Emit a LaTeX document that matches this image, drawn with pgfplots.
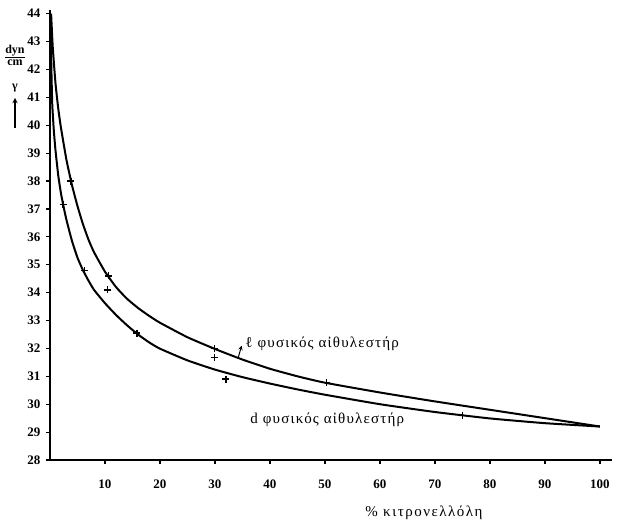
\documentclass[border=0pt]{standalone}
\usepackage{pgfplots}
\pgfplotsset{compat=1.18}
\usepackage{fontspec}
\setmainfont{Liberation Serif}
\begin{document}
\begin{tikzpicture}[x=1pt,y=1pt]
\begin{axis}[
  scale only axis,
  width=562pt, height=450pt,
  xmin=0, xmax=102.2, ymin=28, ymax=44.13,
  axis x line*=bottom, axis y line*=left,
  axis line style={line width=2.6pt,-},
  xtick={10,20,...,100}, ytick={28,29,...,44},
  tick align=outside, major tick length=4pt,
  tick style={line width=1.2pt,black},
  /pgf/number format/assume math mode=true,
  tick label style={font=\fontsize{13}{15}\selectfont\bfseries},
  xticklabel style={yshift=-12pt},
  yticklabel style={xshift=-2pt},
  clip=false,
]
% l natural ester (upper)
\addplot[black, line width=2pt, smooth, tension=0.3] coordinates {
(0.2,44.0)(0.5,42.8)(1,41.5)(1.5,40.6)(2,39.9)(3,38.75)(4,37.85)(5,37.1)
(6,36.45)(7,35.9)(8,35.45)(10,34.75)(12,34.2)(14,33.78)(16,33.45)(18,33.17)
(20,32.92)(25,32.4)(30,31.98)(35,31.6)(40,31.27)(45,31.0)(50,30.77)(60,30.42)
(70,30.1)(80,29.8)(90,29.5)(100,29.2)};
% d natural ester (lower)
\addplot[black, line width=2pt, smooth, tension=0.3] coordinates {
(0.1,43.8)(0.2,42.5)(0.4,40.8)(0.7,39.8)(1,39.1)(1.5,38.2)(2,37.55)(2.5,37.05)
(3,36.6)(4,35.85)(5,35.25)(6,34.8)(7,34.43)(8,34.1)(10,33.62)(12,33.2)(14,32.83)
(16,32.5)(18,32.22)(20,31.99)(25,31.57)(30,31.24)(35,30.97)(40,30.74)(45,30.53)
(50,30.34)(60,30.0)(70,29.72)(80,29.49)(90,29.32)(100,29.2)};
% measured points
\addplot[only marks, mark=+, mark size=3.5pt, line width=1.4pt, black] coordinates {
(2.4,37.15)(6.3,34.8)(15.8,32.55)(75,29.6)(3.8,38.0)(10.6,34.6)(29.9,32.0)(50.3,30.77)
(10.5,34.1)(29.9,31.68)(32.0,30.9)};
% curve labels
\node[anchor=west, font=\fontsize{15}{17}\selectfont\addfontfeature{LetterSpace=8}] at (axis cs:34.9,32.15) {ℓ φυσικός αἰθυλεστήρ};
\draw[line width=1pt,-stealth] (axis cs:34.2,31.65) -- (axis cs:34.85,32.1);
\node[anchor=west, font=\fontsize{15}{17}\selectfont\addfontfeature{LetterSpace=8}] at (axis cs:35.8,29.45) {d φυσικός αἰθυλεστήρ};
% axis labels
\node[font=\fontsize{15}{17}\selectfont\addfontfeature{LetterSpace=10}] at (axis cs:68,28) [yshift=-53pt] {\% κιτρονελλόλη};
\node[font=\fontsize{12}{12}\selectfont\bfseries, align=center, inner sep=0pt] at (rel axis cs:0,1) [xshift=-35pt, yshift=-45pt] {\underline{dyn}\\cm};
\node[font=\fontsize{12}{12}\selectfont\bfseries, inner sep=0pt] at (rel axis cs:0,1) [xshift=-35pt, yshift=-78pt] {γ};
\draw[line width=1.3pt,-stealth] (rel axis cs:0,1) ++(-35pt,-118pt) -- ++(0pt,30pt);
\end{axis}
\path (-50pt,-70pt) rectangle (568pt,460pt);
\end{tikzpicture}
\end{document}
